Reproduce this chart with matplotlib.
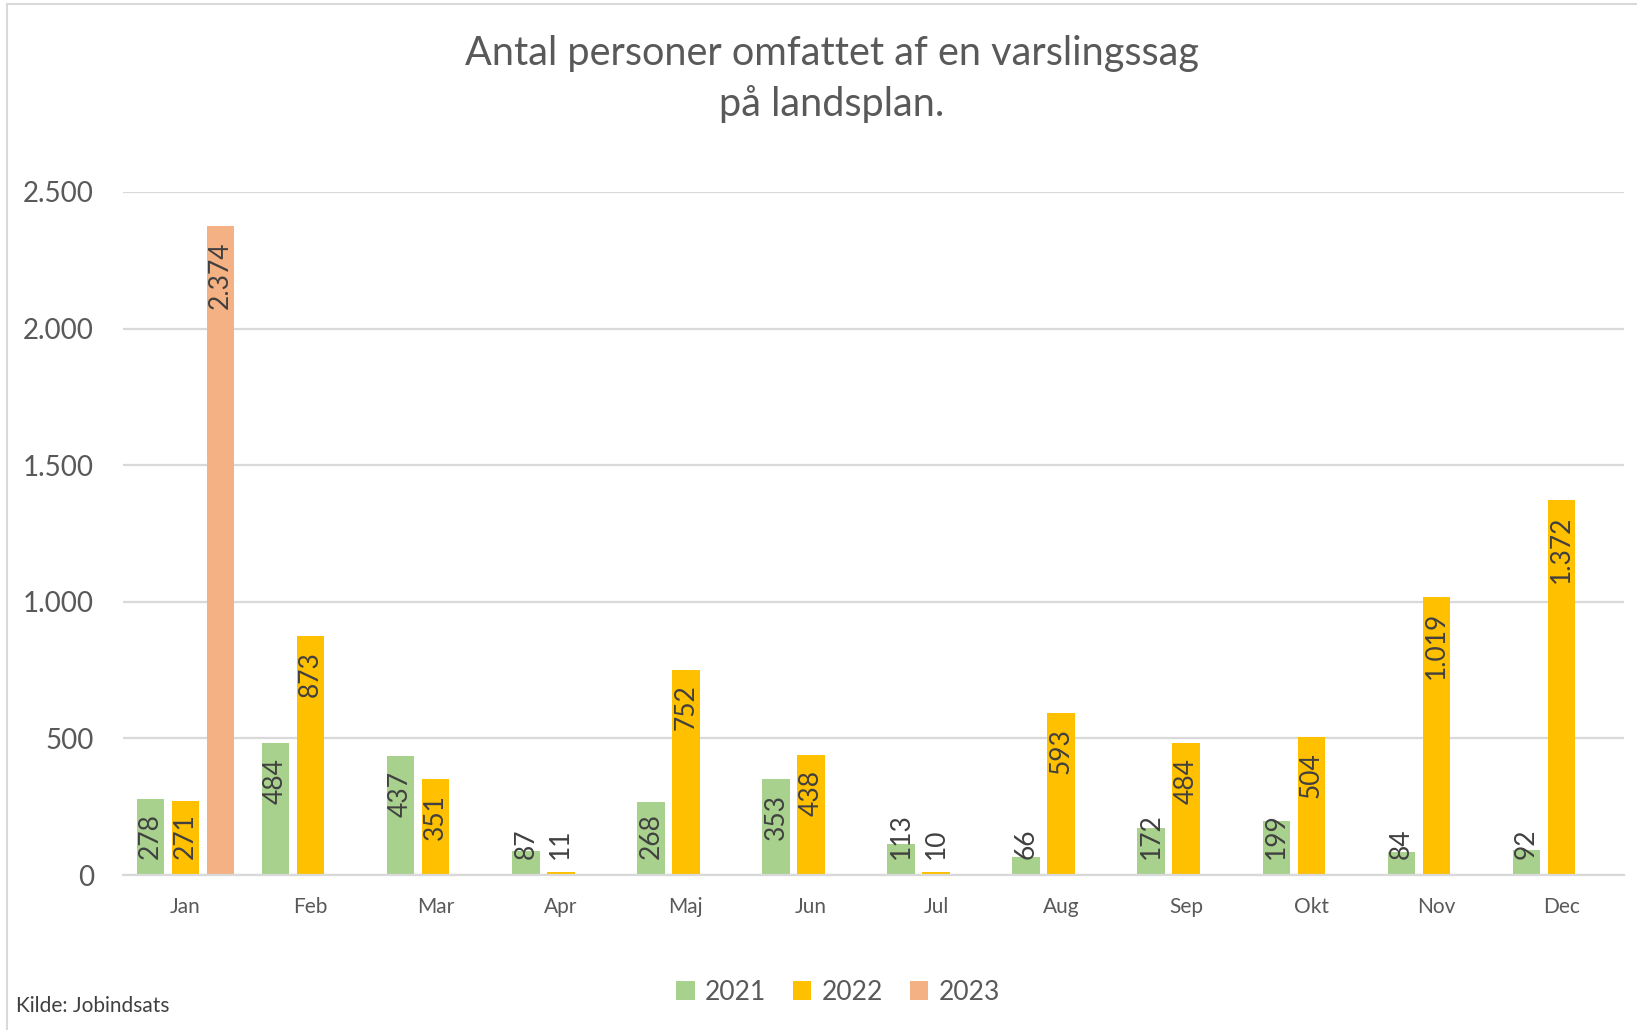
import matplotlib
matplotlib.use("Agg")
import matplotlib.pyplot as plt
from matplotlib.lines import Line2D
from matplotlib.patches import Patch
import numpy as np

plt.rcParams['font.family'] = ['Lato', 'DejaVu Sans']

months = ["Jan", "Feb", "Mar", "Apr", "Maj", "Jun", "Jul", "Aug", "Sep", "Okt", "Nov", "Dec"]
v2021 = [278, 484, 437, 87, 268, 353, 113, 66, 172, 199, 84, 92]
v2022 = [271, 873, 351, 11, 752, 438, 10, 593, 484, 504, 1019, 1372]
v2023 = [2374, None, None, None, None, None, None, None, None, None, None, None]

series = [("2021", v2021, "#A9D18E"), ("2022", v2022, "#FFC000"), ("2023", v2023, "#F4B183")]

W, H = 1637, 1030
fig = plt.figure(figsize=(W / 100, H / 100), dpi=100)
ax = fig.add_axes([123 / W, 1 - 875 / H, (1624 - 123) / W, (875 - 192) / H])

x = np.arange(len(months))
step = 0.28
width = 0.22
labels = []
for i, (name, vals, col) in enumerate(series):
    xs = [xi + (i - 1) * step for xi, v in zip(x, vals) if v is not None]
    ys = [v for v in vals if v is not None]
    ax.bar(xs, ys, width=width, color=col, zorder=3)
    for xi, v in zip(xs, ys):
        txt = f"{v:,}".replace(",", ".")
        t = ax.annotate(txt, xy=(xi, 0), xytext=(0, 16), textcoords="offset pixels",
                        rotation=90, ha="center", va="bottom", fontsize=19,
                        color="#404040", zorder=4)
        labels.append((t, v))

ax.set_xlim(-0.5, 11.5)
ax.set_ylim(0, 2500)
ax.set_yticks([0, 500, 1000, 1500, 2000, 2500])
ax.set_yticklabels(["0", "500", "1.000", "1.500", "2.000", "2.500"])
ax.set_xticks(x)
ax.set_xticklabels(months)
ax.tick_params(axis="y", length=0, pad=21, labelsize=20, labelcolor="#595959")
ax.tick_params(axis="x", length=0, pad=16, labelsize=15, labelcolor="#595959")
ax.grid(axis="y", color="#D9D9D9", linewidth=1.6, zorder=0)
for s in ["top", "right", "left"]:
    ax.spines[s].set_visible(False)
ax.spines["bottom"].set_color("#D9D9D9")
ax.spines["bottom"].set_linewidth(1.6)
ax.spines["bottom"].set_zorder(5)

# place data labels "inside end", but not lower than a minimum above the base
fig.canvas.draw()
renderer = fig.canvas.get_renderer()
ppu = (ax.transData.transform((0, 1000))[1] - ax.transData.transform((0, 0))[1]) / 1000
for t, v in labels:
    length = t.get_window_extent(renderer).height
    off = max(16, v * ppu - 15 - length)
    t.xyann = (0, off)

fig.text(832 / W, 1 - 54 / H, "Antal personer omfattet af en varslingssag", ha="center", va="center",
         fontsize=28.5, color="#595959")
fig.text(832 / W, 1 - 104 / H, "på landsplan.", ha="center", va="center",
         fontsize=28.5, color="#595959")
fig.text(16 / W, 1 - 1006 / H, "Kilde: Jobindsats", ha="left", va="center", fontsize=15, color="#404040")

handles = [Patch(facecolor=c, edgecolor="none", label=n) for n, _, c in series]
fig.legend(handles=handles, loc="center", bbox_to_anchor=(838 / W, 1 - 992 / H), ncol=3,
           frameon=False, fontsize=19, handlelength=0.7, handleheight=0.7, handletextpad=0.4,
           columnspacing=1.0, labelcolor="#595959")

# chart border
fig.add_artist(Line2D([7 / W, 7 / W], [0, 1 - 4 / H], color="#D9D9D9", linewidth=1.5))
fig.add_artist(Line2D([7 / W, 1], [1 - 4 / H, 1 - 4 / H], color="#D9D9D9", linewidth=1.5))

fig.savefig("out.png", dpi=100)
